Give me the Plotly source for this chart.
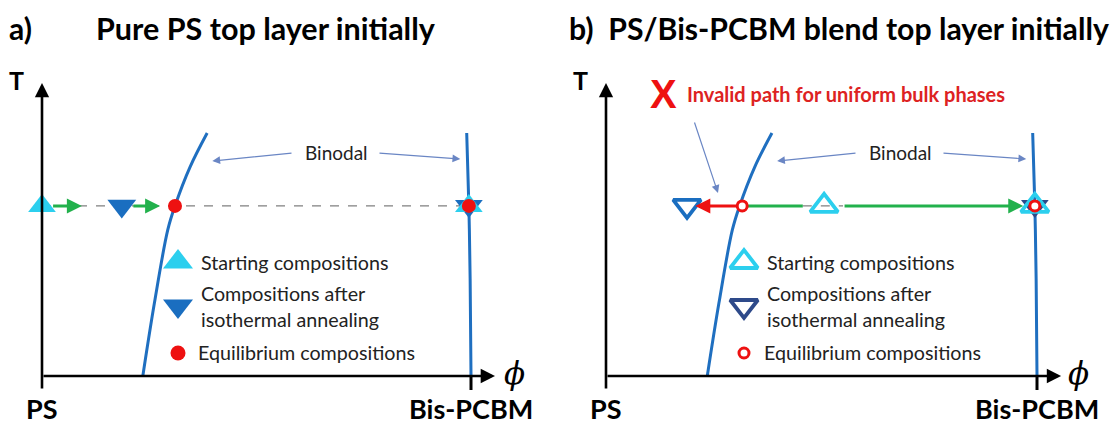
import plotly.graph_objects as go

W, H = 1118, 427

# ---------------- data (schematic phase diagram) ----------------
# binodal curves (phi = Bis-PCBM fraction, T = reduced temperature)
binodal_left_phi = [0.235, 0.262, 0.293, 0.310, 0.345, 0.385]
binodal_left_T = [0.0, 0.30, 0.60, 0.70, 0.86, 1.00]
binodal_right_phi = [1.000, 0.998, 0.995, 0.990]
binodal_right_T = [0.0, 0.40, 0.70, 1.00]

T_anneal = 0.70

# panel a: pure PS top layer
start_a_phi = [0.0, 0.995]
annealed_a_phi = [0.186, 0.995]
equil_a_phi = [0.310, 0.995]

# panel b: PS/Bis-PCBM blend top layer
start_b_phi = [0.506, 0.995]
annealed_b_phi = [0.188, 0.995]
equil_b_phi = [0.316, 0.995]

legend_labels = ["Starting compositions", "Compositions after<br>isothermal annealing",
                 "Equilibrium compositions"]

# ---------------- colours / styles ----------------
C_CYAN = "#2ccfee"
C_BLUE = "#1a6ec0"
C_NAVY = "#2e4a8a"
C_RED = "#ee1111"
C_GREEN = "#22b14c"
C_BIN = "#1f6fc0"
C_THIN = "#6a86c4"
FONT = "Lato"

# pixel geometry of each panel: phi=0 px, phi=1 px
PANELS = {"a": dict(x0=42, x1=471, dom=[0, 0.5]), "b": dict(x0=606, x1=1037, dom=[0.5, 1.0])}
Y0, Y1 = 376, 133  # T=0, T=1 pixel rows

fig = go.Figure()

def xr(p):
    s = (p["x1"] - p["x0"])
    lo = (p["dom"][0] * W - p["x0"]) / s
    hi = (p["dom"][1] * W - p["x0"]) / s
    return [lo, hi]

yscale = Y0 - Y1
yr = [-(H - Y0) / yscale, Y0 / yscale]

fig.update_layout(
    width=W, height=H, margin=dict(l=0, r=0, t=0, b=0),
    plot_bgcolor="white", paper_bgcolor="white", showlegend=False,
    xaxis=dict(domain=PANELS["a"]["dom"], range=xr(PANELS["a"]), visible=False),
    xaxis2=dict(domain=PANELS["b"]["dom"], range=xr(PANELS["b"]), visible=False, anchor="y2"),
    yaxis=dict(domain=[0, 1], range=yr, visible=False),
    yaxis2=dict(domain=[0, 1], range=yr, visible=False, anchor="x2"),
)

def px(x):
    return x / W

def py(y):
    return 1 - y / H

def T_of(ypix):
    return (Y0 - ypix) / yscale

def text(x, y, s, size, color="black", bold=False, xanchor="left", font=FONT, italic=False):
    if bold:
        s = "<b>" + s + "</b>"
    if italic:
        s = "<i>" + s + "</i>"
    fig.add_annotation(x=px(x), y=py(y), xref="paper", yref="paper", text=s, showarrow=False,
                       xanchor=xanchor, yanchor="middle", align="left", borderpad=0,
                       font=dict(family=font, size=size, color=color))

def arrow(xa, ya, tail_phi, tail_T, head_phi, head_T, color, width, head=2, size=1.0):
    fig.add_annotation(x=head_phi, y=head_T, ax=tail_phi, ay=tail_T, xref=xa, yref=ya,
                       axref=xa, ayref=ya, showarrow=True, arrowhead=head, arrowsize=size,
                       arrowwidth=width, arrowcolor=color, standoff=0, startstandoff=0, text="")

def line(xa, ya, xs, ys, color, width, dash="solid", shape="linear"):
    fig.add_trace(go.Scatter(x=xs, y=ys, xaxis=xa, yaxis=ya, mode="lines",
                             line=dict(color=color, width=width, dash=dash, shape=shape),
                             hoverinfo="skip"))

def marker(xa, ya, xs, ys, symbol, size, color, lw=0, lcolor=None):
    fig.add_trace(go.Scatter(x=xs, y=ys, xaxis=xa, yaxis=ya, mode="markers",
                             marker=dict(symbol=symbol, size=size, color=color,
                                         line=dict(width=lw, color=lcolor or color)),
                             hoverinfo="skip"))

def lerp(a, b, f):
    return a + (b - a) * f

for key, xa, ya in [("a", "x", "y"), ("b", "x2", "y2")]:
    p = PANELS[key]
    xs = (p["x1"] - p["x0"])
    # axes
    arrow(xa, ya, 0, T_of(390), 0, T_of(83), "black", 2.6, head=2, size=1.1)
    arrow(xa, ya, 0, 0, (495 - 42) / 429, 0, "black", 2.6, head=2, size=1.1)
    line(xa, ya, [1, 1], [0, T_of(390)], "black", 3)
    # binodals
    line(xa, ya, binodal_left_phi, binodal_left_T, C_BIN, 3, shape="spline")
    line(xa, ya, binodal_right_phi, binodal_right_T, C_BIN, 3, shape="spline")
    # axis labels
    text(p["x0"] - 26, 80, "T", 25, bold=True, xanchor="center")
    text(p["x0"] + 472, 373, "ϕ", 31, font="DejaVu Serif", italic=True, xanchor="center")
    text(p["x0"], 408, "PS", 27, bold=True, xanchor="center")
    text(p["x1"], 408, "Bis-PCBM", 27, bold=True, xanchor="center")
    # binodal label
    text(p["x0"] + 294, 153, "Binodal", 19, color="#222222", xanchor="center")
    bl = binodal_left_phi[-1]
    arrow(xa, ya, 251 / xs, T_of(153), bl + 0.012, T_of(161), C_THIN, 1.2, head=2, size=1.3)
    arrow(xa, ya, 336 / xs, T_of(153), binodal_right_phi[-1] - 0.015, T_of(159), C_THIN, 1.2, head=2, size=1.3)

# ---------------- panel a ----------------
line("x", "y", [start_a_phi[0], equil_a_phi[1]], [T_anneal, T_anneal], "#808080", 1.3, dash="dash")
arrow("x", "y", lerp(start_a_phi[0], annealed_a_phi[0], 0.12), T_anneal,
      lerp(start_a_phi[0], annealed_a_phi[0], 0.50), T_anneal, C_GREEN, 3, head=2, size=1.0)
arrow("x", "y", lerp(annealed_a_phi[0], equil_a_phi[0], 0.19), T_anneal,
      lerp(annealed_a_phi[0], equil_a_phi[0], 0.72), T_anneal, C_GREEN, 3, head=2, size=1.0)
marker("x", "y", [annealed_a_phi[1]], [T_anneal], "triangle-down", 24, C_BLUE)
marker("x", "y", start_a_phi, [T_anneal] * 2, "triangle-up", 24, C_CYAN)
marker("x", "y", [annealed_a_phi[0]], [T_anneal], "triangle-down", 25, C_BLUE)
marker("x", "y", equil_a_phi, [T_anneal] * 2, "circle", 14, C_RED)

# legend a
la = (178 - 42) / 429
marker("x", "y", [la], [T_of(262)], "triangle-up", 26, C_CYAN)
marker("x", "y", [la], [T_of(306)], "triangle-down", 26, C_BLUE)
marker("x", "y", [la], [T_of(353)], "circle", 15, C_RED)
text(200, 262, legend_labels[0], 19.7, color="#222222")
text(200, 306, legend_labels[1], 19.7, color="#222222")
text(197, 352, legend_labels[2], 19.7, color="#222222")

# ---------------- panel b ----------------
eL, eR = equil_b_phi
s0 = start_b_phi[0]
line("x2", "y2", [lerp(s0, eL, 0.26), lerp(s0, eR, 0.09)], [T_anneal] * 2, "#808080", 1.3, dash="dash")
line("x2", "y2", [lerp(s0, eL, 0.26), lerp(s0, eL, 0.93)], [T_anneal] * 2, C_GREEN, 3)
arrow("x2", "y2", lerp(s0, eR, 0.09), T_anneal, lerp(s0, eR, 0.945), T_anneal, C_GREEN, 3, head=2, size=1.0)
arrow("x2", "y2", lerp(eL, annealed_b_phi[0], 0.07), T_anneal,
      lerp(eL, annealed_b_phi[0], 0.85), T_anneal, C_RED, 3, head=2, size=1.0)
marker("x2", "y2", [annealed_b_phi[1]], [T_anneal], "triangle-down", 24, C_NAVY)
marker("x2", "y2", [annealed_b_phi[0]], [T_anneal], "triangle-down-open", 24, C_BLUE, lw=3.8)
marker("x2", "y2", start_b_phi, [T_anneal] * 2, "triangle-up-open", 24, C_CYAN, lw=3.8)
marker("x2", "y2", equil_b_phi, [T_anneal] * 2, "circle", 10, "white", lw=3, lcolor=C_RED)

lb = (744 - 606) / 431
marker("x2", "y2", [lb], [T_of(262)], "triangle-up-open", 24, C_CYAN, lw=3.8)
marker("x2", "y2", [lb], [T_of(306)], "triangle-down-open", 24, C_NAVY, lw=3.8)
marker("x2", "y2", [lb], [T_of(353)], "circle", 10, "white", lw=3, lcolor=C_RED)
text(766, 262, legend_labels[0], 19.7, color="#222222")
text(766, 306, legend_labels[1], 19.7, color="#222222")
text(763, 352, legend_labels[2], 19.7, color="#222222")

# invalid path note
text(663, 94, "X", 40, color=C_RED, bold=True, xanchor="center", font="Liberation Sans")
text(686, 94, "Invalid path for uniform bulk phases", 20, color="#dd2222", bold=True)
arrow("x2", "y2", (694 - 606) / 431, T_of(121), (718 - 606) / 431, T_of(193), C_THIN, 1.2, head=2, size=1.3)

# ---------------- titles ----------------
text(8, 28, "a)", 30, bold=True)
text(95, 28, "Pure PS top layer initially", 30.5, bold=True)
text(568, 28, "b)  PS/Bis-PCBM blend top layer initially", 30.2, bold=True)

fig.write_html("out.html", config={"displayModeBar": False},
               post_script="document.body.style.margin='0';document.body.style.overflow='hidden';")
